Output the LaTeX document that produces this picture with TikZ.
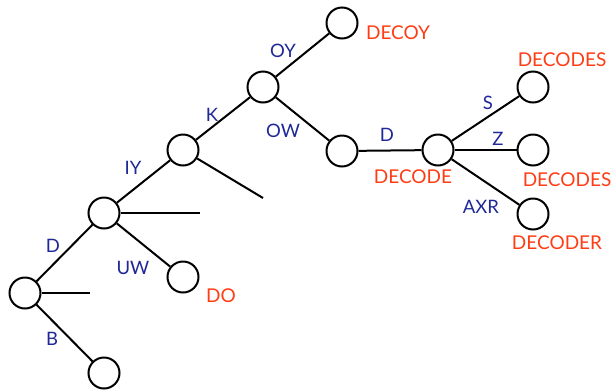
\documentclass[tikz,border=0pt]{standalone}
\usepackage{fontspec}
\setmainfont{Lato}
\definecolor{arcblue}{RGB}{30,40,150}
\definecolor{wordred}{RGB}{255,60,20}
\begin{document}
\begin{tikzpicture}[x=1pt,y=-1pt,
  st/.style={circle,draw=black,line width=2pt,minimum size=31pt,inner sep=0pt},
  edge/.style={line width=2pt},
  arc/.style={text=arcblue,font=\fontsize{18.5}{18.5}\selectfont,inner sep=0pt},
  word/.style={text=wordred,font=\fontsize{19}{19}\selectfont,inner sep=0pt}]
\useasboundingbox (0,0) rectangle (612,389);
\node[st] (n1) at (25,293) {};
\node[st] (n2) at (104,213) {};
\node[st] (n3) at (104,373) {};
\node[st] (n4) at (183,277) {};
\node[st] (n5) at (183,150) {};
\node[st] (n6) at (263,87) {};
\node[st] (n7) at (342,23) {};
\node[st] (n8) at (342,151) {};
\node[st] (n9) at (438,150) {};
\node[st] (n10) at (533,87) {};
\node[st] (n11) at (533,150) {};
\node[st] (n12) at (533,214) {};
\coordinate (e1) at (90,293);
\coordinate (e2) at (200,213);
\coordinate (e5) at (263,198);
\draw[edge] (n1) -- (n2);
\draw[edge] (n1) -- (n3);
\draw[edge] (n1) -- (e1);
\draw[edge] (n2) -- (n5);
\draw[edge] (n2) -- (e2);
\draw[edge] (n2) -- (n4);
\draw[edge] (n5) -- (n6);
\draw[edge] (n5) -- (e5);
\draw[edge] (n6) -- (n7);
\draw[edge] (n6) -- (n8);
\draw[edge] (n8) -- (n9);
\draw[edge] (n9) -- (n10);
\draw[edge] (n9) -- (n11);
\draw[edge] (n9) -- (n12);
\node[arc] (lD1) at (53,246) {D};
\node[arc] (lB) at (52,339) {B};
\node[arc] (lUW) at (133,268) {UW};
\node[arc] (lIY) at (133,168) {IY};
\node[arc] (lK) at (212,115) {K};
\node[arc] (lOY) at (283,51) {OY};
\node[arc] (lOW) at (283,131) {OW};
\node[arc] (lD2) at (387,135) {D};
\node[arc] (lS) at (488,103) {S};
\node[arc] (lZ) at (498,139) {Z};
\node[arc] (lAXR) at (481,207) {AXR};
\node[word] (wDECOY) at (398,33) {DECOY};
\node[word] (wDECODE) at (413,177) {DECODE};
\node[word] (wDECODES1) at (562,60) {DECODES};
\node[word] (wDECODES2) at (567,180) {DECODES};
\node[word] (wDECODER) at (557,243) {DECODER};
\node[word] (wDO) at (221,296) {DO};
\end{tikzpicture}
\end{document}
